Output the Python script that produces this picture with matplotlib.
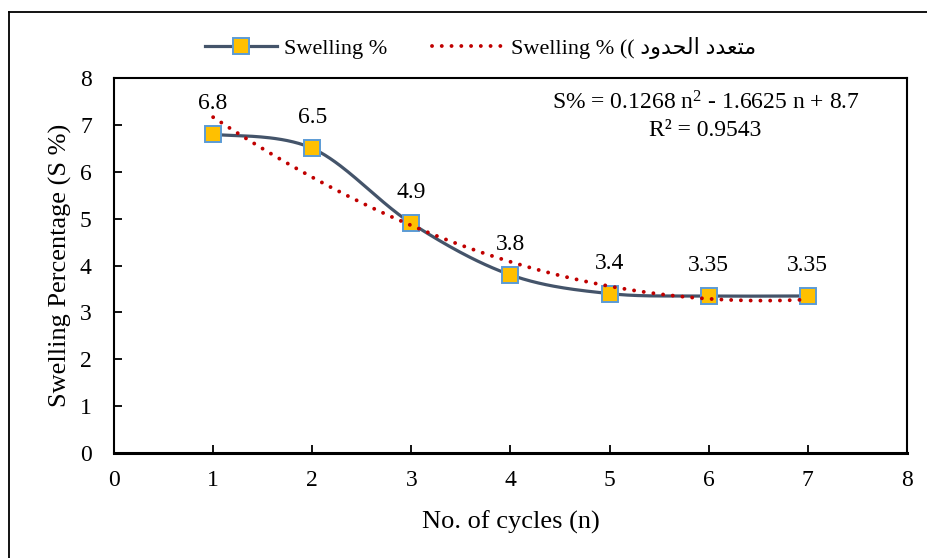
import numpy as np
import matplotlib
matplotlib.use("Agg")
import matplotlib.pyplot as plt
from matplotlib.lines import Line2D

plt.rcParams['font.family'] = ['Liberation Serif', 'DejaVu Sans']
plt.rcParams['mathtext.fontset'] = 'custom'
plt.rcParams['mathtext.rm'] = 'Liberation Serif'
plt.rcParams['mathtext.it'] = 'Liberation Serif:italic'

# data
cycles = [1, 2, 3, 4, 5, 6, 7]
swelling = [6.8, 6.5, 4.9, 3.8, 3.4, 3.35, 3.35]
point_labels = ['6.8', '6.5', '4.9', '3.8', '3.4', '3.35', '3.35']
xticks = [0, 1, 2, 3, 4, 5, 6, 7, 8]
yticks = [0, 1, 2, 3, 4, 5, 6, 7, 8]

# arabic "متعدد الحدود" in visual order (presentation forms, no shaping in mpl)
ar_word1 = '\uFEA9\uFEED\uFEAA\uFEA4\uFEDF\uFE8D'   # الحدود
ar_word2 = '\uFEA9\uFEAA\uFECC\uFE98\uFEE3'         # متعدد
trend_label = 'Swelling % (( ' + ar_word1 + ' ' + ar_word2


def smooth_curve(xs, ys, n=40):
    # excel-like smoothed line: bezier segments with catmull-rom control points
    p = np.column_stack([xs, ys]).astype(float)
    out = []
    for i in range(len(p) - 1):
        p0 = p[i - 1] if i > 0 else p[i]
        p1 = p[i]
        p2 = p[i + 1]
        p3 = p[i + 2] if i + 2 < len(p) else p[i + 1]
        c1 = p1 + (p2 - p0) / 6.0
        c2 = p2 - (p3 - p1) / 6.0
        t = np.linspace(0, 1, n)[:, None]
        seg = ((1 - t) ** 3) * p1 + 3 * ((1 - t) ** 2) * t * c1 + 3 * (1 - t) * t ** 2 * c2 + t ** 3 * p2
        out.append(seg if i == 0 else seg[1:])
    out = np.vstack(out)
    return out[:, 0], out[:, 1]


fig = plt.figure(figsize=(9.28, 5.58), dpi=100)
ax = fig.add_axes([114/928, 1 - 453/558, (907 - 114)/928, (453 - 78)/558])

sx, sy = smooth_curve(cycles, swelling)
ax.plot(sx, sy, color='#44546A', lw=2.3, zorder=3, solid_capstyle='round')
ax.plot(cycles, swelling, ls='none', marker='s', ms=11, mfc='#FFC000',
        mec='#5B9BD5', mew=1.4, zorder=4)

# polynomial trendline (order 2)
dots = (0, (0.01, 2.5))
coef = np.polyfit(cycles, swelling, 2)
tx = np.linspace(cycles[0], cycles[-1], 200)
ax.plot(tx, np.polyval(coef, tx), color='#C00000', lw=2.8,
        ls=dots, dash_capstyle='round', zorder=5)

for x, y, s in zip(cycles, swelling, point_labels):
    ax.annotate(s, (x, y), xytext=(0, 22), textcoords='offset points',
                ha='center', va='center', fontsize=17)

ax.text(0.746, 0.933, r'S% = 0.1268 n$^{2}$ - 1.6625 n + 8.7', transform=ax.transAxes,
        ha='center', va='center', fontsize=17)
ax.text(0.746, 0.861, 'R² = 0.9543', transform=ax.transAxes,
        ha='center', va='center', fontsize=17)

ax.set_xlim(0, 8)
ax.set_ylim(0, 8)
ax.set_xticks(xticks)
ax.set_yticks(yticks)
ax.tick_params(axis='both', direction='in', length=6, width=1.3, labelsize=17, colors='black')
ax.tick_params(axis='x', pad=12)
ax.tick_params(axis='y', pad=16)
for sp in ax.spines.values():
    sp.set_linewidth(1.5)
    sp.set_color('black')
ax.spines['bottom'].set_linewidth(2.2)

ax.set_xlabel('No. of cycles (n)', fontsize=19, labelpad=14)
ax.set_ylabel('Swelling Percentage (S %)', fontsize=19, labelpad=6)

h1 = Line2D([], [], color='#44546A', lw=2.3, marker='s', ms=11, mfc='#FFC000',
            mec='#5B9BD5', mew=1.4)
h2 = Line2D([], [], color='#C00000', lw=2.8, ls=dots, dash_capstyle='round')
fig.legend([h1, h2], ['Swelling %', trend_label], loc='center', bbox_to_anchor=(0.518, 1 - 48/558),
           ncol=2, frameon=False, fontsize=16, handlelength=3.2, columnspacing=2.0,
           handletextpad=0.35, numpoints=1)

# outer chart frame
fig.add_artist(Line2D([9/928, 9/928], [0, 1 - 12/558], color='black', lw=1.3, transform=fig.transFigure))
fig.add_artist(Line2D([9/928, 1], [1 - 12/558, 1 - 12/558], color='black', lw=1.3, transform=fig.transFigure))

fig.savefig('out.png', dpi=100)
